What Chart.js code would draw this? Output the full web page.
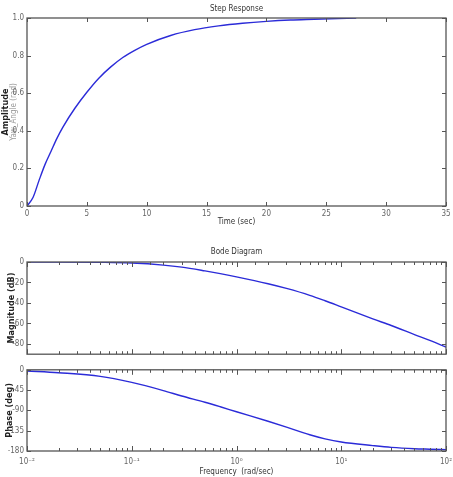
<!DOCTYPE html>
<html>
	<head>
		<title>Step Response / Bode Diagram</title>
		<meta charset="utf-8">
		<style>
	body {
		margin: 0;
		background-color: #ffffff;
	}
	canvas {
		position: absolute;
		left: 0;
	}
	#stepChart { top: 0px; }
	#magChart { top: 240px; }
	#phaseChart { top: 362px; }
		</style>
	</head>
	<body>
		<canvas id="stepChart" width="453" height="234"></canvas>
		<canvas id="magChart" width="453" height="122"></canvas>
		<canvas id="phaseChart" width="453" height="115"></canvas>

		<script src="https://cdn.jsdelivr.net/npm/chart.js"></script>
		<script>
			// step response
			const stepTime = [0, 0.5, 1, 1.5, 2, 2.5, 3, 4, 5, 6, 7, 8, 9, 10, 12, 14, 16, 18, 20, 22, 24, 26, 27.5];
			const stepAmp = [0, 0.045, 0.135, 0.22, 0.29, 0.36, 0.42, 0.52, 0.605, 0.68, 0.74, 0.79, 0.828, 0.86, 0.907, 0.938, 0.958, 0.972, 0.982, 0.989, 0.993, 0.997, 1.0];
			const stepXTicks = [0, 5, 10, 15, 20, 25, 30, 35];
			const stepYTicks = [0, 0.2, 0.4, 0.6, 0.8, 1];

			// bode diagram
			const freq = [0.01, 0.02, 0.05, 0.1, 0.2, 0.3, 0.5, 0.7, 1, 2, 3, 5, 7, 10, 20, 30, 50, 70, 100];
			const magDb = [0, 0, -0.3, -1, -3, -5, -8.7, -11.4, -14.5, -21.2, -25.8, -32.5, -37.8, -43.8, -55.5, -62, -70.8, -76.5, -83];
			const phaseDeg = [-2.5, -6.5, -14.5, -28, -46, -58, -72, -82, -93, -114, -127, -144, -153, -160, -168, -172, -175, -176, -177];
			const magTicks = [-80, -60, -40, -20, 0];
			const phaseTicks = [-180, -135, -90, -45, 0];
			const supers = {'-2': '⁻²', '-1': '⁻¹', '0': '⁰', '1': '¹', '2': '²'};

			Chart.defaults.font.family = "'Liberation Sans Narrow', 'DejaVu Sans Condensed', Arial, sans-serif";
			Chart.defaults.font.size = 8;
			Chart.defaults.color = '#666666';

			const lineBlue = '#2b2bd8';

			const isDecade = v => Math.abs(Math.log10(v) - Math.round(Math.log10(v))) < 1e-6;

			// matlab style box with inward ticks on all four sides
			const boxTicks = {
				id: 'boxTicks',
				afterDatasetsDraw(chart) {
					const {ctx, chartArea: a, scales} = chart;
					const xs = scales.x, ys = scales.y;
					ctx.save();
					ctx.strokeStyle = '#555555';
					ctx.lineWidth = 1;
					ctx.beginPath();
					xs.ticks.forEach(t => {
						const px = Math.round(xs.getPixelForValue(t.value)) + 0.5;
						let len = 4;
						if (xs.type === 'logarithmic') len = isDecade(t.value) ? 5 : 3;
						ctx.moveTo(px, a.bottom); ctx.lineTo(px, a.bottom - len);
						ctx.moveTo(px, a.top); ctx.lineTo(px, a.top + len);
					});
					ys.ticks.forEach(t => {
						const py = Math.round(ys.getPixelForValue(t.value)) + 0.5;
						ctx.moveTo(a.left, py); ctx.lineTo(a.left + 4, py);
						ctx.moveTo(a.right, py); ctx.lineTo(a.right - 4, py);
					});
					ctx.stroke();
					ctx.lineWidth = 1.3;
					ctx.strokeRect(a.left, a.top, a.right - a.left, a.bottom - a.top);
					ctx.restore();
				}
			};

			const noGrid = {display: false, drawTicks: false};
			const noBorder = {display: false};
			const titleFont = {size: 8, weight: 'normal'};
			// keep the plot box from shrinking for the end labels
			const noSidePad = s => { s.paddingLeft = 0; s.paddingRight = 0; };

			// --- step response
			new Chart(document.getElementById('stepChart'), {
				type: 'line',
				data: {
					datasets: [{
						data: stepTime.map((t, i) => ({x: t, y: stepAmp[i]})),
						borderColor: lineBlue,
						borderWidth: 1.4,
						pointRadius: 0,
						cubicInterpolationMode: 'monotone'
					}]
				},
				options: {
					responsive: false,
					animation: false,
					layout: {padding: {left: 0, right: 7, top: 0, bottom: 0}},
					plugins: {
						legend: {display: false},
						tooltip: {enabled: false},
						title: {
							display: true,
							text: 'Step Response',
							color: '#333333',
							font: titleFont,
							fullSize: false,
							padding: {top: 4, bottom: 4.4}
						}
					},
					scales: {
						x: {
							type: 'linear',
							min: 0,
							max: 35,
							grid: noGrid,
							border: noBorder,
							afterBuildTicks: s => { s.ticks = stepXTicks.map(v => ({value: v})); },
							afterFit: s => { s.height = 28; noSidePad(s); },
							ticks: {padding: 3, maxRotation: 0, autoSkip: false},
							title: {display: true, text: 'Time (sec)', color: '#333333', font: titleFont, padding: {top: 0, bottom: 7}}
						},
						y: {
							min: 0,
							max: 1,
							weight: 0,
							grid: noGrid,
							border: noBorder,
							afterBuildTicks: s => { s.ticks = stepYTicks.map(v => ({value: v})); },
							afterFit: s => { s.width = 18; },
							ticks: {padding: 3},
							title: {display: true, text: 'Yaw_Angle (rad)', color: '#9a9a9a', font: {size: 8}, padding: 0}
						},
						yTitle: {
							position: 'left',
							weight: 1,
							grid: noGrid,
							border: noBorder,
							ticks: {display: false},
							afterFit: s => { s.width = 9; },
							title: {display: true, text: 'Amplitude', color: '#222222', font: {size: 9, weight: 'bold'}, padding: 0.5}
						}
					}
				},
				plugins: [boxTicks]
			});

			// --- bode magnitude
			new Chart(document.getElementById('magChart'), {
				type: 'line',
				data: {
					datasets: [{
						data: freq.map((f, i) => ({x: f, y: magDb[i]})),
						borderColor: lineBlue,
						borderWidth: 1.4,
						pointRadius: 0,
						cubicInterpolationMode: 'monotone'
					}]
				},
				options: {
					responsive: false,
					animation: false,
					layout: {padding: {left: 0, right: 7, top: 0, bottom: 0}},
					plugins: {
						legend: {display: false},
						tooltip: {enabled: false},
						title: {
							display: true,
							text: 'Bode Diagram',
							color: '#333333',
							font: titleFont,
							fullSize: false,
							padding: {top: 7.2, bottom: 5.2}
						}
					},
					scales: {
						x: {
							type: 'logarithmic',
							min: 0.01,
							max: 100,
							grid: noGrid,
							border: noBorder,
							ticks: {display: false},
							afterFit: s => { s.height = 4; noSidePad(s); }
						},
						y: {
							min: -90,
							max: 0,
							grid: noGrid,
							border: noBorder,
							afterBuildTicks: s => { s.ticks = magTicks.map(v => ({value: v})); },
							afterFit: s => { s.width = 27; },
							ticks: {padding: 3},
							title: {display: true, text: 'Magnitude (dB)', color: '#222222', font: {size: 9, weight: 'bold'}, padding: {top: 6.5, bottom: 0}}
						}
					}
				},
				plugins: [boxTicks]
			});

			// --- bode phase
			new Chart(document.getElementById('phaseChart'), {
				type: 'line',
				data: {
					datasets: [{
						data: freq.map((f, i) => ({x: f, y: phaseDeg[i]})),
						borderColor: lineBlue,
						borderWidth: 1.4,
						pointRadius: 0,
						cubicInterpolationMode: 'monotone'
					}]
				},
				options: {
					responsive: false,
					animation: false,
					layout: {padding: {left: 0, right: 7, top: 5, bottom: 0}},
					plugins: {
						legend: {display: false},
						tooltip: {enabled: false}
					},
					scales: {
						x: {
							type: 'logarithmic',
							min: 0.01,
							max: 100,
							grid: noGrid,
							border: noBorder,
							afterFit: s => { s.height = 26; noSidePad(s); },
							ticks: {
								padding: 6,
								maxRotation: 0,
								autoSkip: false,
								callback: v => isDecade(v) ? '10' + supers[String(Math.round(Math.log10(v)))] : ''
							},
							title: {display: true, text: 'Frequency  (rad/sec)', color: '#333333', font: titleFont, padding: {top: 0, bottom: 0.5}}
						},
						y: {
							min: -180,
							max: 0,
							grid: noGrid,
							border: noBorder,
							afterBuildTicks: s => { s.ticks = phaseTicks.map(v => ({value: v})); },
							afterFit: s => { s.width = 27; },
							ticks: {padding: 3},
							title: {display: true, text: 'Phase (deg)', color: '#222222', font: {size: 9, weight: 'bold'}, padding: {top: 4.6, bottom: 0}}
						}
					}
				},
				plugins: [boxTicks]
			});
		</script>
	</body>
</html>
